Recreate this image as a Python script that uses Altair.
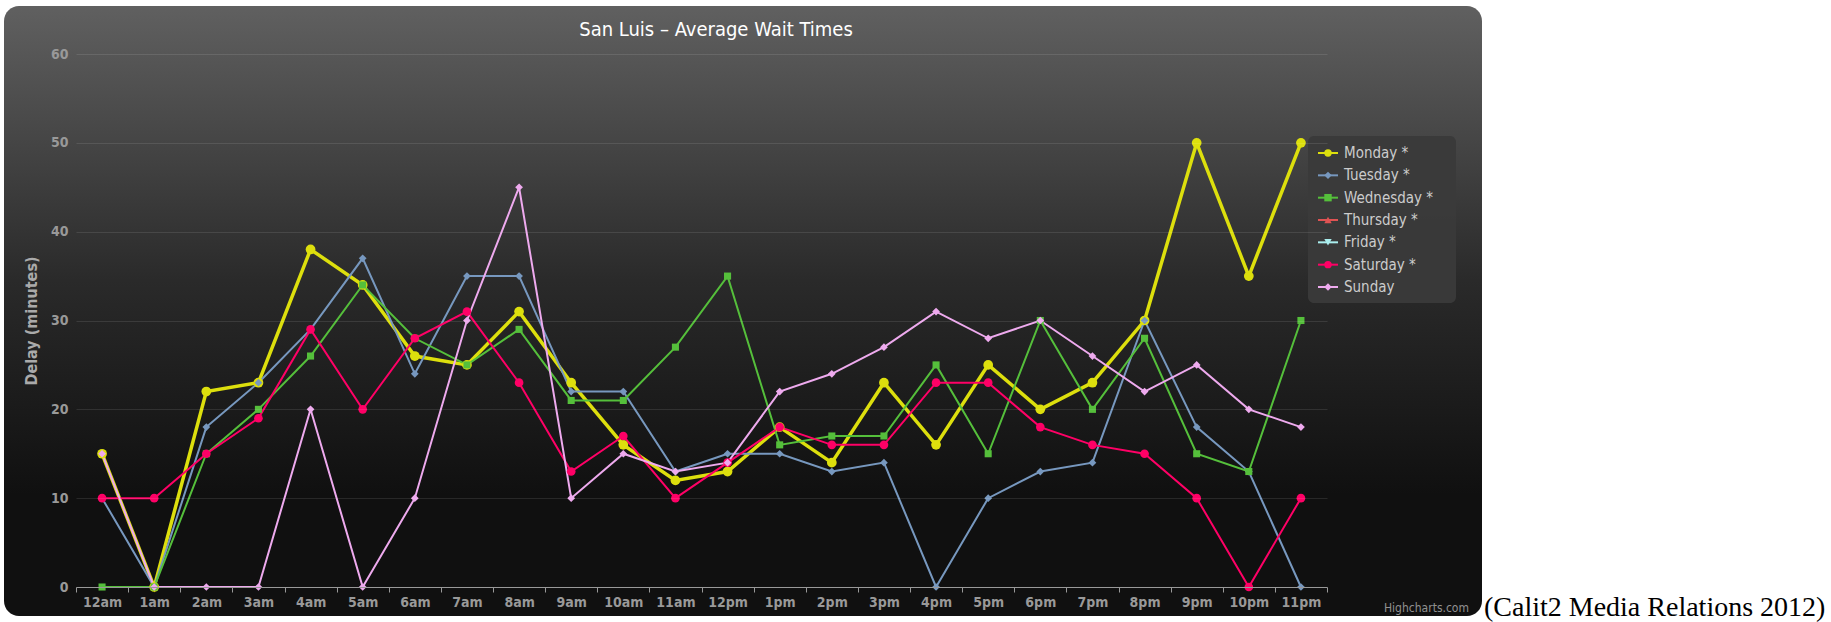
import altair as alt
import pandas as pd

TITLE = "San Luis – Average Wait Times"
Y_TITLE = "Delay (minutes)"
CREDIT = "Highcharts.com"
CAPTION = "(Calit2 Media Relations 2012)"

HOURS = ["12am", "1am", "2am", "3am", "4am", "5am", "6am", "7am", "8am", "9am",
         "10am", "11am", "12pm", "1pm", "2pm", "3pm", "4pm", "5pm", "6pm", "7pm",
         "8pm", "9pm", "10pm", "11pm"]
DAYS = ["Monday *", "Tuesday *", "Wednesday *", "Thursday *", "Friday *",
        "Saturday *", "Sunday"]
COLORS = ["#DDDF0D", "#7798BF", "#55BF3B", "#DF5353", "#aaeeee", "#ff0066", "#eeaaee"]
SHAPES = ["circle", "diamond", "square", "triangle-up", "triangle-down", "circle", "diamond"]
LINE_WIDTHS = [3.5, 2, 2, 2, 2, 2, 2]
MARKER_SIZES = [95, 60, 50, 60, 60, 75, 60]
Y_TICKS = [0, 10, 20, 30, 40, 50, 60]

MONDAY = [15, 0, 22, 23, 38, 34, 26, 25, 31, 23, 16, 12, 13, 18, 14, 23, 16, 25, 20, 23, 30, 50, 35, 50]
TUESDAY = [10, 0, 18, 23, 29, 37, 24, 35, 35, 22, 22, 13, 15, 15, 13, 14, 0, 10, 13, 14, 30, 18, 13, 0]
WEDNESDAY = [0, 0, 15, 20, 26, 34, 28, 25, 29, 21, 21, 27, 35, 16, 17, 17, 25, 15, 30, 20, 28, 15, 13, 30]
THURSDAY = []
FRIDAY = []
SATURDAY = [10, 10, 15, 19, 29, 20, 28, 31, 23, 13, 17, 10, 14, 18, 16, 16, 23, 23, 18, 16, 15, 10, 0, 10]
SUNDAY = [15, 0, 0, 0, 20, 0, 10, 30, 45, 10, 15, 13, 14, 22, 24, 27, 31, 28, 30, 26, 22, 25, 20, 18]

SERIES = [MONDAY, TUESDAY, WEDNESDAY, THURSDAY, FRIDAY, SATURDAY, SUNDAY]

rows = []
for day, values in zip(DAYS, SERIES):
    for hour, v in zip(HOURS, values):
        rows.append({"day": day, "series": day, "hour": hour, "delay": v})
df = pd.DataFrame(rows)
legend_df = pd.DataFrame({"day": DAYS})

FONT = "DejaVu Sans Condensed, DejaVu Sans, sans-serif"

color_scale = alt.Scale(domain=DAYS, range=COLORS)
shape_scale = alt.Scale(domain=DAYS, range=SHAPES)

x_enc = alt.X(
    "hour:N", sort=HOURS, bandPosition=0.5,
    scale=alt.Scale(type="band", domain=HOURS, paddingInner=0, paddingOuter=0),
    axis=alt.Axis(title=None, labelAngle=0, grid=False, tickBand="extent",
                  domainColor="#999999", tickColor="#999999", tickSize=5,
                  labelColor="#999999", labelFont=FONT, labelFontSize=14,
                  labelFontWeight="bold", labelPadding=3, zindex=1),
)
y_enc = alt.Y(
    "delay:Q", scale=alt.Scale(domain=[0, 60], nice=False),
    axis=alt.Axis(title=Y_TITLE, values=Y_TICKS, domain=False, ticks=False,
                  grid=True, gridColor="#ffffff", gridOpacity=0.1,
                  labelColor="#999999", labelFont=FONT, labelFontSize=14,
                  labelFontWeight="bold", labelPadding=8,
                  titleColor="#aaaaaa", titleFont=FONT, titleFontSize=16,
                  titleFontWeight="bold", titlePadding=11, zindex=1),
)
color_enc = alt.Color("day:N", scale=color_scale, legend=None)

base = alt.Chart(df).encode(x=x_enc, y=y_enc, color=color_enc)

lines = base.mark_line().encode(
    strokeWidth=alt.StrokeWidth("series:N", scale=alt.Scale(type="ordinal", domain=DAYS, range=LINE_WIDTHS), legend=None),
)
points = base.mark_point(filled=True, opacity=1).encode(
    shape=alt.Shape("day:N", scale=shape_scale, legend=None),
    size=alt.Size("series:N", scale=alt.Scale(type="ordinal", domain=DAYS, range=MARKER_SIZES), legend=None),
)

one = pd.DataFrame({"k": [0]})
bg = alt.Chart(one).mark_rect(
    cornerRadius=15,
    fill=alt.Gradient(gradient="linear", x1=0, x2=0, y1=0, y2=1,
                      stops=[alt.GradientStop(color="#606060", offset=0),
                             alt.GradientStop(color="#2a2a2a", offset=0.45),
                             alt.GradientStop(color="#101010", offset=0.8),
                             alt.GradientStop(color="#101010", offset=1)]),
).encode(x=alt.value(-72), x2=alt.value(1406), y=alt.value(-48), y2=alt.value(562))

title = alt.Chart(pd.DataFrame({"t": [TITLE]})).mark_text(
    font=FONT, fontSize=20, color="#ffffff", align="center", baseline="middle",
).encode(x=alt.value(640), y=alt.value(-24), text="t:N")

credit = alt.Chart(pd.DataFrame({"t": [CREDIT]})).mark_text(
    font=FONT, fontSize=12, color="#909090", align="right", baseline="middle",
).encode(x=alt.value(1393), y=alt.value(554), text="t:N")

caption = alt.Chart(pd.DataFrame({"t": [CAPTION]})).mark_text(
    font="Liberation Serif, Times New Roman, serif", fontSize=28, color="#000000",
    align="left", baseline="alphabetic",
).encode(x=alt.value(1408), y=alt.value(562), text="t:N")

# Highcharts-style legend: line segment + marker + label
leg_y = alt.Y("day:N", scale=alt.Scale(type="point", domain=DAYS, range=[99, 233], padding=0), axis=None)
leg_box = alt.Chart(one).mark_rect(cornerRadius=6, fill="#3a3a3a", opacity=0.95).encode(
    x=alt.value(1232), x2=alt.value(1380), y=alt.value(82), y2=alt.value(249))
leg_base = alt.Chart(legend_df).encode(y=leg_y, color=alt.Color("day:N", scale=color_scale, legend=None))
leg_line = leg_base.mark_rule(strokeWidth=2).encode(x=alt.value(1242), x2=alt.value(1262))
leg_pt = leg_base.mark_point(filled=True, opacity=1, size=55).encode(
    x=alt.value(1252), shape=alt.Shape("day:N", scale=shape_scale, legend=None))
leg_txt = alt.Chart(legend_df).mark_text(
    font=FONT, fontSize=15, color="#cccccc", align="left", baseline="middle",
).encode(x=alt.value(1268), y=leg_y, text="day:N")

main = alt.layer(bg, lines, points, title, credit, caption)
leg = alt.layer(leg_box, leg_line, leg_pt, leg_txt)

chart = alt.layer(main, leg).resolve_scale(y="independent").properties(
    width=1251, height=533,
    padding={"left": 76, "top": 54, "right": 504, "bottom": 35},
    autosize=alt.AutoSizeParams(type="none"),
    background="#ffffff",
).configure_view(stroke=None)

chart.save("out.html", embed_options={"renderer": "svg", "actions": False})
